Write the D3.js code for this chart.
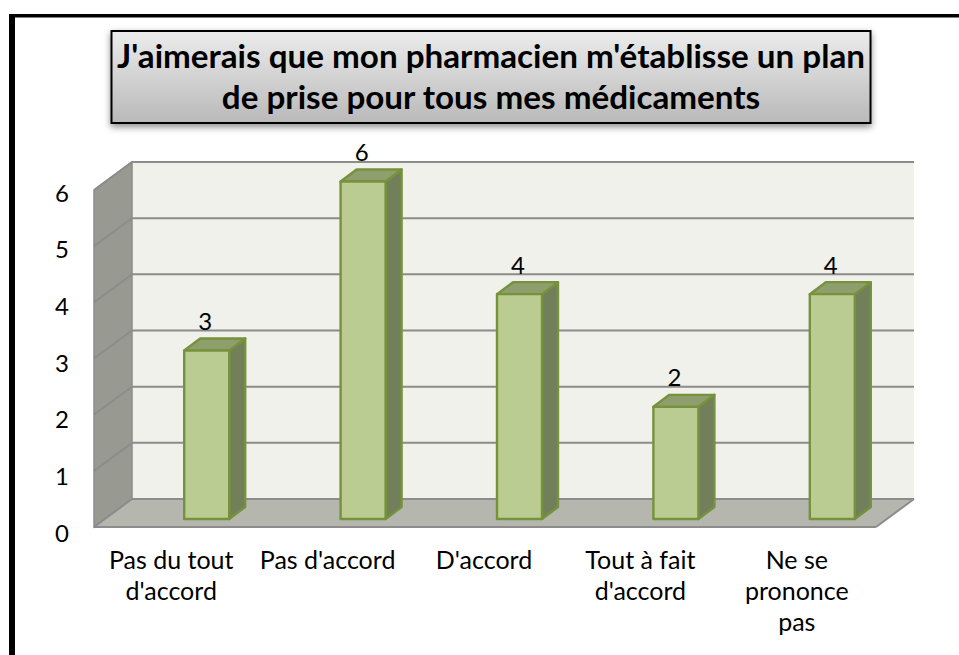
<!DOCTYPE html>
<html><head><meta charset="utf-8">
<script src="https://cdn.jsdelivr.net/npm/d3@7"></script>
<style>html,body{margin:0;padding:0;background:#fff}svg{display:block}text{font-family:Lato,"Open Sans",sans-serif;fill:#000}</style>
</head><body><svg id="c" width="959" height="655"></svg>
<script>
const categories=[["Pas du tout","d'accord"],["Pas d'accord"],["D'accord"],["Tout à fait","d'accord"],["Ne se","prononce","pas"]];
const values=[3,6,4,2,4];
const yTicks=[0,1,2,3,4,5,6];
const titleLines=["J'aimerais que mon pharmacien m'établisse un plan","de prise pour tous mes médicaments"];

const svg=d3.select("#c");
const defs=svg.append("defs");
const g=defs.append("linearGradient").attr("id","tg").attr("x1",0).attr("x2",0).attr("y1",0).attr("y2",1);
g.append("stop").attr("offset",0).attr("stop-color","#ececec");
g.append("stop").attr("offset",1).attr("stop-color","#b9b9b9");
const f=defs.append("filter").attr("id","sh").attr("x","-5%").attr("y","-15%").attr("width","110%").attr("height","135%");
f.append("feDropShadow").attr("dx",0).attr("dy",3).attr("stdDeviation",3.5).attr("flood-color","#000").attr("flood-opacity",.45);

// frame
svg.append("rect").attr("x",9).attr("y",14).attr("width",950).attr("height",3.5).attr("fill","#000");
svg.append("rect").attr("x",9).attr("y",14).attr("width",6).attr("height",641).attr("fill","#000");

// title
svg.append("rect").attr("x",111.5).attr("y",31).attr("width",759).attr("height",92)
  .attr("fill","url(#tg)").attr("stroke","#000").attr("stroke-width",2).attr("filter","url(#sh)");
svg.selectAll(".t").data(titleLines).join("text").attr("class","t")
  .attr("x",491).attr("y",(d,i)=>68+i*41).attr("text-anchor","middle")
  .attr("font-size",33.2).attr("font-weight",700).text(d=>d);

// scales
const y=d3.scaleLinear().domain([0,6]).range([527,190]);
const ybar=d3.scaleLinear().domain([0,6]).range([519,181]);
const yLabel=d3.scaleLinear().domain([0,6]).range([541.5,201.5]);
const x=d3.scaleBand().domain(d3.range(values.length)).range([94,876]);
const depth={dx:38,dy:-28}, bd={dx:16,dy:-12}, barW=45;
const poly=p=>p.map(a=>a.join(",")).join(" ");
const x0=94,x1=876;

// back wall
svg.append("polygon").attr("points",poly([[x0+depth.dx,y(6)+depth.dy],[x1+depth.dx,y(6)+depth.dy],[x1+depth.dx,y(0)+depth.dy],[x0+depth.dx,y(0)+depth.dy]])).attr("fill","#eff1ea");
// side wall
svg.append("polygon").attr("points",poly([[x0,y(6)],[x0+depth.dx,y(6)+depth.dy],[x0+depth.dx,y(0)+depth.dy],[x0,y(0)]])).attr("fill","#989a91").attr("stroke","#8c8c8c").attr("stroke-width",1.5);
// floor
svg.append("polygon").attr("points",poly([[x0,y(0)],[x1,y(0)],[x1+depth.dx,y(0)+depth.dy],[x0+depth.dx,y(0)+depth.dy]])).attr("fill","#b5b7ae");
svg.append("line").attr("x1",x0).attr("x2",x1).attr("y1",y(0)).attr("y2",y(0)).attr("stroke","#8c8c8c").attr("stroke-width",2);
svg.append("line").attr("x1",x1).attr("x2",x1+depth.dx).attr("y1",y(0)).attr("y2",y(0)+depth.dy).attr("stroke","#8c8c8c").attr("stroke-width",2);
// gridlines
yTicks.forEach(t=>{
  svg.append("polyline").attr("fill","none").attr("stroke","#8c8c8c").attr("stroke-width",2)
    .attr("points",poly([[x0,y(t)],[x0+depth.dx,y(t)+depth.dy],[x1+depth.dx,y(t)+depth.dy]]));
});

// y labels
svg.selectAll(".yl").data(yTicks).join("text").attr("class","yl")
  .attr("x",62).attr("y",d=>yLabel(d)).attr("text-anchor","middle").attr("font-size",24).text(d=>d);

// bars
values.forEach((v,i)=>{
  const c=x(i)+x.bandwidth()/2;
  const l=c+12, r=l+barW, top=ybar(v)+0.5, bot=ybar(0);
  const gb=svg.append("g").attr("stroke","#76923c").attr("stroke-width",2.4).attr("stroke-linejoin","round");
  gb.append("polygon").attr("points",poly([[r,top],[r+bd.dx,top+bd.dy],[r+bd.dx,bot+bd.dy],[r,bot]])).attr("fill","#71805a");
  gb.append("polygon").attr("points",poly([[l,top],[l+bd.dx,top+bd.dy],[r+bd.dx,top+bd.dy],[r,top]])).attr("fill","#8e9f6d");
  gb.append("rect").attr("x",l).attr("y",top).attr("width",barW).attr("height",bot-top).attr("fill","#bbcc92");
  svg.append("text").attr("x",l+21).attr("y",top-20.5).attr("text-anchor","middle").attr("font-size",24).text(v);
  svg.append("g").selectAll("text").data(categories[i]).join("text")
    .attr("x",c-1).attr("y",(d,k)=>569+k*31).attr("text-anchor","middle").attr("font-size",25).text(d=>d);
});
</script></body></html>
